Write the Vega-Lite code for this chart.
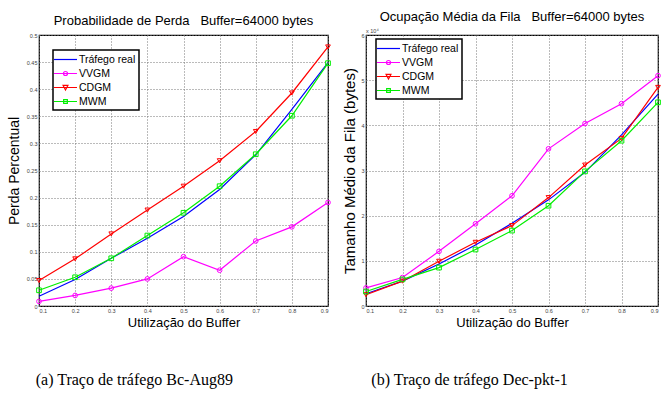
{
  "$schema": "https://vega.github.io/schema/vega-lite/v6.json",
  "background": "white",
  "padding": {"left": 6, "top": 10, "right": 0, "bottom": 2},
  "config": {
    "font": "Liberation Sans",
    "view": {"stroke": "black", "strokeWidth": 1.2},
    "axis": {"labelFontSize": 5.5, "labelColor": "#444", "titleFontSize": 13, "titleFontWeight": "normal", "titleColor": "black", "titleFont": "Liberation Sans", "grid": true, "gridDash": [1, 2], "gridColor": "#777", "gridOpacity": 1, "domain": false, "ticks": false, "labelPadding": 2},
    "title": {"fontSize": 13, "fontWeight": "normal", "font": "Liberation Sans", "color": "black"},
    "legend": {"labelFontSize": 10.5, "labelFont": "Liberation Sans", "labelColor": "black", "strokeColor": "black", "fillColor": "white", "padding": 3, "rowPadding": 2, "symbolSize": 132, "symbolStrokeWidth": 1.2, "symbolOffset": 3, "labelOffset": 7, "symbolFillColor": "transparent"},
    "concat": {"spacing": 9}
  },
  "resolve": {"scale": {"color": "independent", "shape": "independent", "x": "independent", "y": "independent"}, "legend": {"color": "independent", "shape": "independent"}},
  "hconcat": [
    {
      "title": {"text": "(a) Traço de tráfego Bc-Aug89", "orient": "bottom", "anchor": "start", "dx": 29, "offset": 42, "font": "Liberation Serif", "fontSize": 16, "fontWeight": "normal"},
      "vconcat": [
        {
          "width": 289, "height": 271,
          "title": {"text": "Probabilidade de Perda \u00a0\u00a0Buffer=64000 bytes", "offset": 5},
          "data": {"values": [
            {"u": 0.1, "s": "Tráfego real", "v": 0.018}, {"u": 0.2, "s": "Tráfego real", "v": 0.049}, {"u": 0.3, "s": "Tráfego real", "v": 0.088}, {"u": 0.4, "s": "Tráfego real", "v": 0.125}, {"u": 0.5, "s": "Tráfego real", "v": 0.165}, {"u": 0.6, "s": "Tráfego real", "v": 0.215}, {"u": 0.7, "s": "Tráfego real", "v": 0.279}, {"u": 0.8, "s": "Tráfego real", "v": 0.363}, {"u": 0.9, "s": "Tráfego real", "v": 0.449},
            {"u": 0.1, "s": "VVGM", "v": 0.0085}, {"u": 0.2, "s": "VVGM", "v": 0.0195}, {"u": 0.3, "s": "VVGM", "v": 0.033}, {"u": 0.4, "s": "VVGM", "v": 0.05}, {"u": 0.5, "s": "VVGM", "v": 0.091}, {"u": 0.6, "s": "VVGM", "v": 0.066}, {"u": 0.7, "s": "VVGM", "v": 0.12}, {"u": 0.8, "s": "VVGM", "v": 0.146}, {"u": 0.9, "s": "VVGM", "v": 0.191},
            {"u": 0.1, "s": "CDGM", "v": 0.047}, {"u": 0.2, "s": "CDGM", "v": 0.087}, {"u": 0.3, "s": "CDGM", "v": 0.133}, {"u": 0.4, "s": "CDGM", "v": 0.177}, {"u": 0.5, "s": "CDGM", "v": 0.221}, {"u": 0.6, "s": "CDGM", "v": 0.268}, {"u": 0.7, "s": "CDGM", "v": 0.322}, {"u": 0.8, "s": "CDGM", "v": 0.393}, {"u": 0.9, "s": "CDGM", "v": 0.478},
            {"u": 0.1, "s": "MWM", "v": 0.029}, {"u": 0.2, "s": "MWM", "v": 0.053}, {"u": 0.3, "s": "MWM", "v": 0.088}, {"u": 0.4, "s": "MWM", "v": 0.13}, {"u": 0.5, "s": "MWM", "v": 0.172}, {"u": 0.6, "s": "MWM", "v": 0.221}, {"u": 0.7, "s": "MWM", "v": 0.28}, {"u": 0.8, "s": "MWM", "v": 0.351}, {"u": 0.9, "s": "MWM", "v": 0.448}
          ]},
          "encoding": {
            "x": {"field": "u", "type": "quantitative", "scale": {"domain": [0.1, 0.9], "nice": false}, "axis": {"title": "Utilização do Buffer", "values": [0.1, 0.2, 0.3, 0.4, 0.5, 0.6, 0.7, 0.8, 0.9], "format": "~g", "titlePadding": 3}},
            "y": {"field": "v", "type": "quantitative", "scale": {"domain": [0, 0.5], "nice": false}, "axis": {"title": "Perda Percentual", "titleFontSize": 14, "values": [0, 0.05, 0.1, 0.15, 0.2, 0.25, 0.3, 0.35, 0.4, 0.45, 0.5], "format": "~g", "titlePadding": 5}},
            "color": {"field": "s", "type": "nominal", "scale": {"domain": ["Tráfego real", "VVGM", "CDGM", "MWM"], "range": ["#0000ff", "#ff00ff", "#ff0000", "#00ee00"]},
              "legend": {"title": null, "orient": "none", "legendX": 14, "legendY": 15,
                "encode": {"legend": {"update": {"strokeWidth": {"value": 1.5}}}, "symbols": {"update": {"shape": {"signal": "datum.value === 'VVGM' ? 'M-2,0H2M-0.35,0A0.35,0.35 0 1,0 0.35,0A0.35,0.35 0 1,0 -0.35,0' : datum.value === 'CDGM' ? 'M-2,0H2M-0.42,-0.36L0.42,-0.36L0,0.42Z' : datum.value === 'MWM' ? 'M-2,0H2M-0.32,-0.32H0.32V0.32H-0.32Z' : 'M-2,0H2'"}, "fill": {"value": "transparent"}, "strokeWidth": {"value": 1.2}}}}}}
          },
          "layer": [
            {"mark": {"type": "line", "strokeWidth": 1.2}},
            {"transform": [{"filter": "datum.s !== 'Tráfego real'"}], "mark": {"type": "point", "filled": false, "size": 22, "strokeWidth": 1, "opacity": 1},
              "encoding": {"shape": {"field": "s", "type": "nominal", "scale": {"domain": ["VVGM", "CDGM", "MWM"], "range": ["circle", "triangle-down", "square"]}, "legend": null}}}
          ]
        }
      ]
    },
    {
      "title": {"text": "(b) Traço de tráfego Dec-pkt-1", "orient": "bottom", "anchor": "start", "dx": 29, "offset": 42, "font": "Liberation Serif", "fontSize": 16, "fontWeight": "normal"},
      "vconcat": [
        {
          "width": 292, "height": 271,
          "title": {"text": "Ocupação Média da Fila \u00a0\u00a0Buffer=64000 bytes", "offset": 5},
          "encoding": {
            "x": {"field": "u", "type": "quantitative", "scale": {"domain": [0.1, 0.9], "nice": false}, "axis": {"title": "Utilização do Buffer", "values": [0.1, 0.2, 0.3, 0.4, 0.5, 0.6, 0.7, 0.8, 0.9], "format": "~g", "titlePadding": 3}},
            "y": {"field": "v", "type": "quantitative", "scale": {"domain": [0, 6], "nice": false}, "axis": {"title": "Tamanho Médio da Fila (bytes)", "titleFontSize": 15, "values": [0, 1, 2, 3, 4, 5, 6], "format": "~g", "titlePadding": 3}}
          },
          "layer": [
            {
              "data": {"values": [
                {"u": 0.1, "s": "Tráfego real", "v": 0.27}, {"u": 0.2, "s": "Tráfego real", "v": 0.55}, {"u": 0.3, "s": "Tráfego real", "v": 0.93}, {"u": 0.4, "s": "Tráfego real", "v": 1.35}, {"u": 0.5, "s": "Tráfego real", "v": 1.83}, {"u": 0.6, "s": "Tráfego real", "v": 2.35}, {"u": 0.7, "s": "Tráfego real", "v": 2.96}, {"u": 0.8, "s": "Tráfego real", "v": 3.79}, {"u": 0.9, "s": "Tráfego real", "v": 4.69},
                {"u": 0.1, "s": "VVGM", "v": 0.40}, {"u": 0.2, "s": "VVGM", "v": 0.63}, {"u": 0.3, "s": "VVGM", "v": 1.21}, {"u": 0.4, "s": "VVGM", "v": 1.82}, {"u": 0.5, "s": "VVGM", "v": 2.44}, {"u": 0.6, "s": "VVGM", "v": 3.48}, {"u": 0.7, "s": "VVGM", "v": 4.04}, {"u": 0.8, "s": "VVGM", "v": 4.48}, {"u": 0.9, "s": "VVGM", "v": 5.10},
                {"u": 0.1, "s": "CDGM", "v": 0.25}, {"u": 0.2, "s": "CDGM", "v": 0.55}, {"u": 0.3, "s": "CDGM", "v": 0.99}, {"u": 0.4, "s": "CDGM", "v": 1.41}, {"u": 0.5, "s": "CDGM", "v": 1.78}, {"u": 0.6, "s": "CDGM", "v": 2.40}, {"u": 0.7, "s": "CDGM", "v": 3.12}, {"u": 0.8, "s": "CDGM", "v": 3.71}, {"u": 0.9, "s": "CDGM", "v": 4.84},
                {"u": 0.1, "s": "MWM", "v": 0.32}, {"u": 0.2, "s": "MWM", "v": 0.59}, {"u": 0.3, "s": "MWM", "v": 0.85}, {"u": 0.4, "s": "MWM", "v": 1.25}, {"u": 0.5, "s": "MWM", "v": 1.67}, {"u": 0.6, "s": "MWM", "v": 2.22}, {"u": 0.7, "s": "MWM", "v": 2.98}, {"u": 0.8, "s": "MWM", "v": 3.66}, {"u": 0.9, "s": "MWM", "v": 4.51}
              ]},
              "encoding": {
                "color": {"field": "s", "type": "nominal", "scale": {"domain": ["Tráfego real", "VVGM", "CDGM", "MWM"], "range": ["#0000ff", "#ff00ff", "#ff0000", "#00ee00"]},
                  "legend": {"title": null, "orient": "none", "legendX": 10, "legendY": 4,
                    "encode": {"legend": {"update": {"strokeWidth": {"value": 1.5}}}, "symbols": {"update": {"shape": {"signal": "datum.value === 'VVGM' ? 'M-2,0H2M-0.35,0A0.35,0.35 0 1,0 0.35,0A0.35,0.35 0 1,0 -0.35,0' : datum.value === 'CDGM' ? 'M-2,0H2M-0.42,-0.36L0.42,-0.36L0,0.42Z' : datum.value === 'MWM' ? 'M-2,0H2M-0.32,-0.32H0.32V0.32H-0.32Z' : 'M-2,0H2'"}, "fill": {"value": "transparent"}, "strokeWidth": {"value": 1.2}}}}}}
              },
              "layer": [
                {"mark": {"type": "line", "strokeWidth": 1.2}},
                {"transform": [{"filter": "datum.s !== 'Tráfego real'"}], "mark": {"type": "point", "filled": false, "size": 22, "strokeWidth": 1, "opacity": 1},
                  "encoding": {"shape": {"field": "s", "type": "nominal", "scale": {"domain": ["VVGM", "CDGM", "MWM"], "range": ["circle", "triangle-down", "square"]}, "legend": null}}}
              ]
            },
            {
              "data": {"values": [{"u": 0.1, "v": 6, "t": "x 10⁴"}]},
              "mark": {"type": "text", "align": "left", "baseline": "bottom", "dy": -1, "fontSize": 5.5, "color": "#444"},
              "encoding": {"text": {"field": "t"}}
            }
          ]
        }
      ]
    }
  ]
}
